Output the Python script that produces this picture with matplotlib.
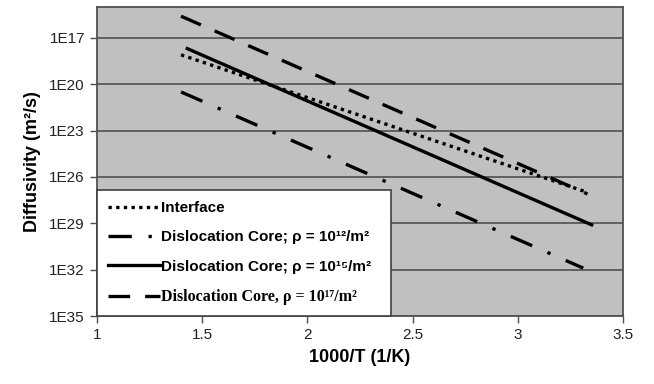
import matplotlib
matplotlib.use("Agg")
import matplotlib.pyplot as plt
import numpy as np

# 1000/T end points and log10(D) end points for each line
x_interface = [1.40, 3.33]
logd_interface = [-18.1, -27.0]
x_rho12 = [1.40, 3.31]
logd_rho12 = [-20.5, -31.9]
x_rho15 = [1.43, 3.35]
logd_rho15 = [-17.7, -29.1]
x_rho17 = [1.40, 3.33]
logd_rho17 = [-15.6, -27.1]

xticks = [1, 1.5, 2, 2.5, 3, 3.5]
xtick_labels = ["1", "1.5", "2", "2.5", "3", "3.5"]
ytick_exp = [-35, -32, -29, -26, -23, -20, -17]
ytick_labels = ["1E35", "1E32", "1E29", "1E26", "1E23", "1E20", "1E17"]

plt.rcParams['font.family'] = ['Liberation Sans', 'DejaVu Sans']

fig = plt.figure(figsize=(6.54, 3.84), dpi=100)
ax = fig.add_axes([0.148, 0.177, 0.805, 0.805])
ax.set_facecolor("#c0c0c0")

lw = 2.4
ax.plot(x_interface, np.power(10.0, logd_interface), color="black", lw=lw,
        linestyle=(0, (1, 1.3)), solid_capstyle="butt",
        label="Interface")
ax.plot(x_rho12, np.power(10.0, logd_rho12), color="black", lw=lw,
        linestyle=(0, (7, 5, 1, 5)),
        label="Dislocation Core; ρ = 10¹²/m²")
ax.plot(x_rho15, np.power(10.0, logd_rho15), color="black", lw=lw,
        linestyle="-", label="Dislocation Core; ρ = 10¹⁵/m²")
ax.plot(x_rho17, np.power(10.0, logd_rho17), color="black", lw=lw,
        linestyle=(0, (6.5, 4.5)), label="Dislocation Core, ρ = 10¹⁷/m²")

ax.set_yscale("log")
ax.set_ylim(1e-35, 1e-15)
ax.set_xlim(1, 3.5)
ax.set_yticks([10.0 ** e for e in ytick_exp])
ax.set_yticklabels(ytick_labels)
ax.yaxis.set_minor_locator(matplotlib.ticker.NullLocator())
ax.set_xticks(xticks)
ax.set_xticklabels(xtick_labels)

ax.grid(axis="y", color="#505050", lw=1.2)
ax.set_axisbelow(True)
ax.tick_params(axis="both", direction="out", length=5, width=1,
               color="#505050", labelsize=11, labelcolor="#222222")
for s in ax.spines.values():
    s.set_color("#505050")
    s.set_linewidth(1.3)

ax.set_xlabel("1000/T (1/K)", fontsize=13, fontweight="bold", labelpad=5)
ax.set_ylabel("Diffusivity (m²/s)", fontsize=13, fontweight="bold", labelpad=6)

leg = ax.legend(loc="lower left", bbox_to_anchor=(0, 0, 0.559, 0.398),
                mode="expand", borderaxespad=0, fancybox=False,
                framealpha=1, edgecolor="#404040", handlelength=3.4,
                handletextpad=0.1, labelspacing=1.0, borderpad=0.72,
                prop={"size": 11, "weight": "bold"})
leg.get_frame().set_linewidth(1.2)
leg.get_texts()[3].set_family(["Liberation Serif", "DejaVu Serif"])
leg.get_texts()[3].set_fontsize(11.5)

fig.savefig("out.png", dpi=100)
